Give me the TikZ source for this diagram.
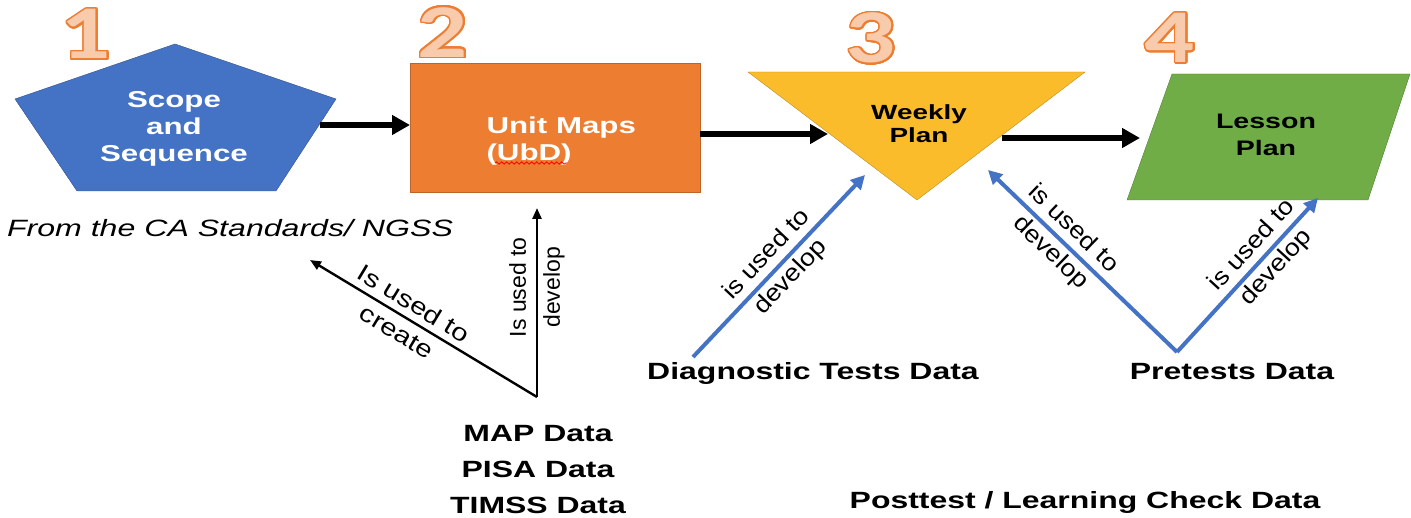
\documentclass[tikz,border=0pt]{standalone}
\usepackage{xcolor}
\usepackage{fontspec}
\usepackage{contour}
\usetikzlibrary{arrows.meta,decorations.pathmorphing}

\setmainfont{Liberation Sans}
\newfontfamily\widefont[FakeStretch=1.36]{Liberation Sans}
\newfontfamily\slopefont[FakeStretch=1.12]{Liberation Sans}
\newfontfamily\flatfont[FakeStretch=1.22]{Liberation Sans}
\newfontfamily\numfont[FakeStretch=1.3]{Carlito}

\definecolor{ssblue}{HTML}{4472C4}
\definecolor{umorange}{HTML}{ED7D31}
\definecolor{wpyellow}{HTML}{FBBC2C}
\definecolor{lpgreen}{HTML}{70AD47}
\definecolor{numfill}{HTML}{F8CBAD}

\contourlength{1.6pt}
\contournumber{32}

\tikzset{
  bigarrow/.style={-{Triangle[length=18pt,width=19pt]}, line width=5.5pt},
  bluearrow/.style={-{Triangle[length=14pt,width=14pt]}, line width=4pt, ssblue},
  thinarrow/.style={-{Triangle[length=11pt,width=9pt]}, line width=2.4pt},
  steplabel/.style={font=\numfont\bfseries\fontsize{76}{76}\selectfont, inner sep=0pt},
  boxtext/.style={font=\widefont\bfseries\fontsize{23}{27}\selectfont, align=center},
  datatext/.style={font=\widefont\bfseries\fontsize{23.5}{36}\selectfont, align=center},
  uselabel/.style={font=\slopefont\fontsize{24}{33}\selectfont, align=center, sloped, text=black},
}

\begin{document}
\begin{tikzpicture}[x=1pt, y=-1pt]
\useasboundingbox (0,0) rectangle (1411,518);

% the four planning steps
\draw[fill=ssblue, draw=ssblue!70!black] (175,44) -- (336,99) -- (276,191) -- (77,191) -- (15,99) -- cycle;
\draw[fill=umorange, draw=umorange!80!black] (410,63) rectangle (700,192);
\draw[fill=wpyellow, draw=wpyellow!75!black] (748,72) -- (1085,72) -- (917,200) -- cycle;
\draw[fill=lpgreen, draw=lpgreen!75!black] (1172,74) -- (1410,74) -- (1368,200) -- (1127,200) -- cycle;

\node[boxtext, text=white] (ss) at (174,129) {Scope\\and\\Sequence};
\node[boxtext, text=white, align=left, anchor=west] (um) at (483,141) {Unit Maps\\(UbD)};
\node[boxtext, font=\widefont\bfseries\fontsize{20.5}{23}\selectfont] (wp) at (919,124) {Weekly\\Plan};
\node[boxtext, font=\widefont\bfseries\fontsize{21}{27}\selectfont] (lp) at (1266,135) {Lesson\\Plan};
\draw[red, line width=0.8pt, decorate, decoration={snake, amplitude=1.2pt, segment length=5pt}] (495,163) -- (567,163);

\node[steplabel] (n1) at (86,35) {\contour{umorange}{\textcolor{numfill}{1}}};
\node[steplabel] (n2) at (443,33) {\contour{umorange}{\textcolor{numfill}{2}}};
\node[steplabel] (n3) at (871,39) {\contour{umorange}{\textcolor{numfill}{3}}};
\node[steplabel] (n4) at (1170,39) {\contour{umorange}{\textcolor{numfill}{4}}};

\node[font=\widefont\itshape\fontsize{23.6}{27}\selectfont] (src) at (230,228) {From the CA Standards/ NGSS};

% data sources
\node[datatext] (map) at (538,470) {MAP Data\\PISA Data\\TIMSS Data};
\node[datatext] (diag) at (813,373) {Diagnostic Tests Data};
\node[datatext] (pre) at (1232,372) {Pretests Data};
\node[datatext] (post) at (1085,502) {Posttest / Learning Check Data};

\coordinate (ss out) at (320,125);
\coordinate (um in) at (410,125);
\coordinate (um out) at (700,134);
\coordinate (wp in) at (828,134);
\coordinate (wp out) at (1002,138);
\coordinate (lp in) at (1140,138);
\coordinate (map v) at (537,397);
\coordinate (ss below) at (310,260);
\coordinate (um below) at (537,208);
\coordinate (diag v) at (693,357);
\coordinate (wp left) at (865,175);
\coordinate (pre v) at (1177,352);
\coordinate (wp right) at (988,170);
\coordinate (lp below) at (1318,198);

\draw[bigarrow] (ss out) -- (um in);
\draw[bigarrow] (um out) -- (wp in);
\draw[bigarrow] (wp out) -- (lp in);

\draw[thinarrow] (map v) -- node[uselabel, pos=0.58, font=\flatfont\fontsize{24}{33}\selectfont] {Is used to\\create} (ss below);
\draw[thinarrow] (map v) -- node[uselabel, pos=0.58, font=\normalfont\fontsize{23}{34}\selectfont] {Is used to\\develop} (um below);
\draw[bluearrow] (diag v) -- node[uselabel, pos=0.5] {is used to\\develop} (wp left);
\draw[bluearrow] (pre v) -- node[uselabel, pos=0.61] {is used to\\develop} (wp right);
\draw[bluearrow] (pre v) -- node[uselabel, pos=0.62] {is used to\\develop} (lp below);
\end{tikzpicture}
\end{document}
